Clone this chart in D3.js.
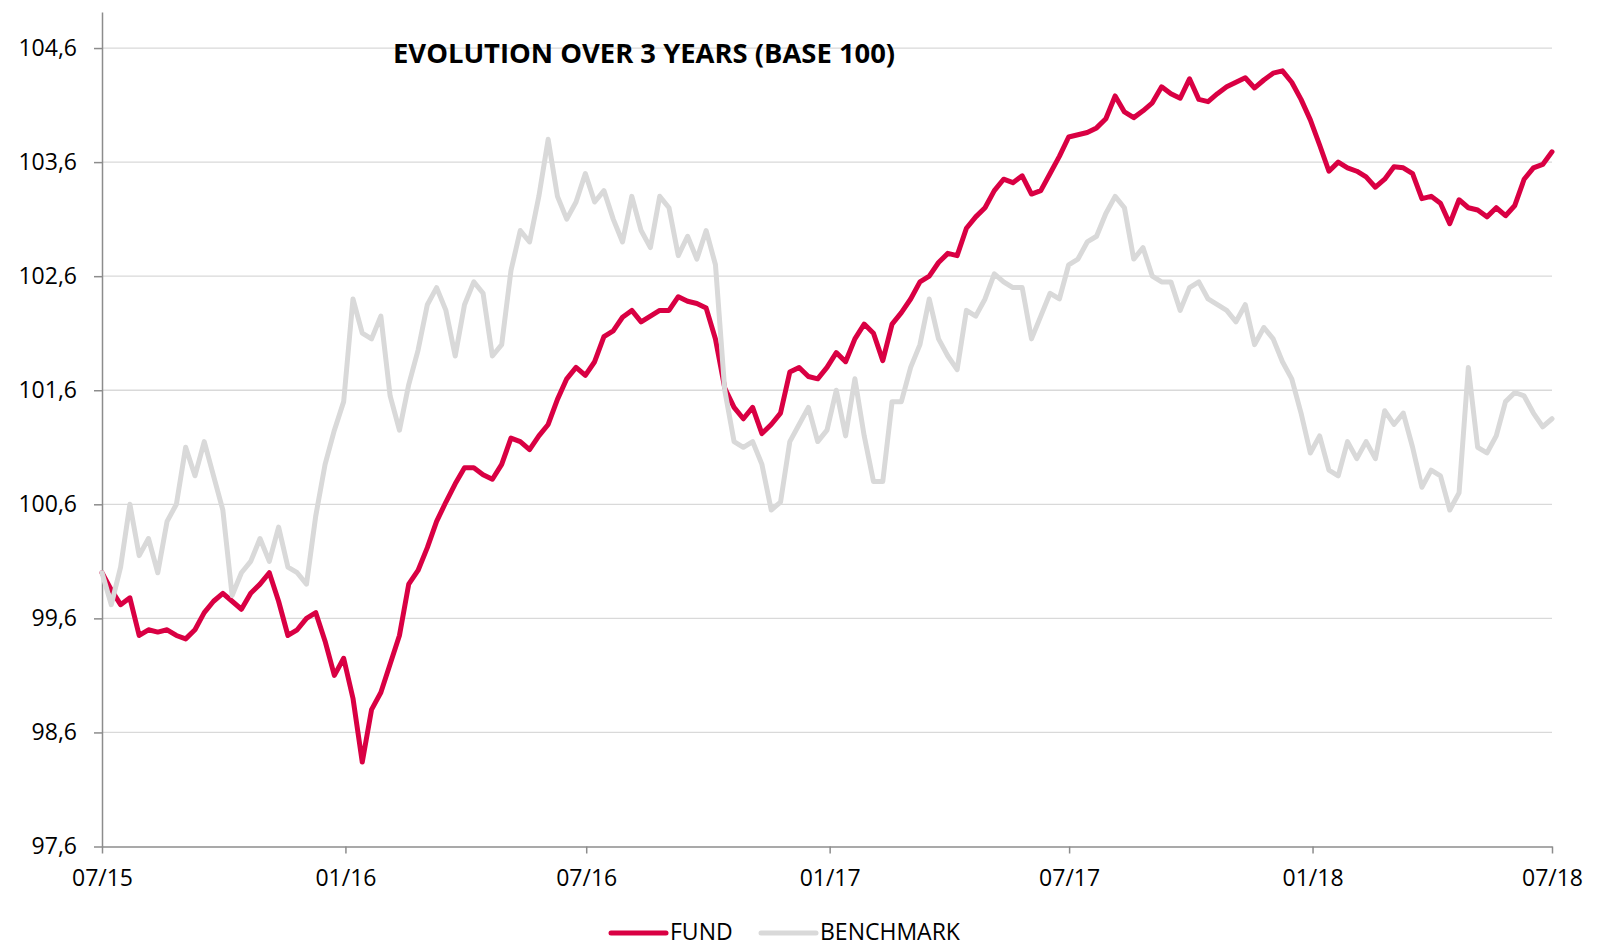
<!DOCTYPE html>
<html>
<head>
<meta charset="utf-8">
<script src="https://cdn.jsdelivr.net/npm/d3@7/dist/d3.min.js"></script>
<style>
  html, body { margin: 0; padding: 0; background: #fff; }
  svg { display: block; font-family: 'Open Sans', sans-serif; }
</style>
</head>
<body>
<svg id="chart" width="1605" height="947"></svg>
<script>
// weekly readings, 07/2015 -> 07/2018
let startDate = new Date(2015, 6, 1)
let endDate = new Date(2018, 6, 1)

let fundValues = [
  100.0, 99.85, 99.72, 99.78, 99.45, 99.5, 99.48, 99.5, 99.45, 99.42,
  99.5, 99.65, 99.75, 99.82, 99.75, 99.68, 99.82, 99.9, 100.0, 99.75,
  99.45, 99.5, 99.6, 99.65, 99.4, 99.1, 99.25, 98.9, 98.34, 98.8,
  98.95, 99.2, 99.45, 99.9, 100.02, 100.22, 100.45, 100.62, 100.78, 100.92,
  100.92, 100.86, 100.82, 100.95, 101.18, 101.15, 101.08, 101.2, 101.3, 101.52,
  101.7, 101.8, 101.73, 101.85, 102.07, 102.12, 102.24, 102.3, 102.2, 102.25,
  102.3, 102.3, 102.42, 102.38, 102.36, 102.32, 102.05, 101.62, 101.45, 101.35,
  101.45, 101.22, 101.3, 101.4, 101.76, 101.8, 101.72, 101.7, 101.8, 101.93,
  101.85, 102.05, 102.18, 102.1, 101.86, 102.18, 102.28, 102.4, 102.55, 102.6,
  102.72, 102.8, 102.78, 103.02, 103.12, 103.2, 103.35, 103.45, 103.42, 103.48,
  103.32, 103.35, 103.5, 103.65, 103.82, 103.84, 103.86, 103.9, 103.98, 104.18,
  104.04, 103.99, 104.05, 104.12, 104.26, 104.2, 104.16, 104.33, 104.15, 104.13,
  104.2, 104.26, 104.3, 104.34, 104.25, 104.32, 104.38, 104.4, 104.3, 104.15,
  103.97, 103.75, 103.52, 103.6, 103.55, 103.52, 103.47, 103.38, 103.45, 103.56,
  103.55, 103.5, 103.28, 103.3, 103.24, 103.06, 103.27, 103.2, 103.18, 103.12,
  103.2, 103.13, 103.22, 103.45, 103.55, 103.58, 103.69
]

let benchmarkValues = [
  100.0, 99.72, 100.05, 100.6, 100.15, 100.3, 100.0, 100.45, 100.6, 101.1,
  100.85, 101.15, 100.85, 100.55, 99.8, 100.0, 100.1, 100.3, 100.1, 100.4,
  100.05, 100.0, 99.9, 100.5, 100.95, 101.25, 101.5, 102.4, 102.1, 102.05,
  102.25, 101.55, 101.25, 101.65, 101.95, 102.35, 102.5, 102.3, 101.9, 102.35,
  102.55, 102.45, 101.9, 102.0, 102.65, 103.0, 102.9, 103.3, 103.8, 103.3,
  103.1, 103.25, 103.5, 103.25, 103.35, 103.1, 102.9, 103.3, 103.0, 102.85,
  103.3, 103.2, 102.78, 102.95, 102.75, 103.0, 102.7, 101.6, 101.15, 101.1,
  101.15, 100.95, 100.55, 100.62, 101.15, 101.3, 101.45, 101.15, 101.25, 101.6,
  101.2, 101.7, 101.2, 100.8, 100.8, 101.5, 101.5, 101.8, 102.0, 102.4,
  102.05, 101.9, 101.78, 102.3, 102.25, 102.4, 102.62, 102.55, 102.5, 102.5,
  102.05, 102.25, 102.45, 102.4, 102.7, 102.75, 102.9, 102.95, 103.15, 103.3,
  103.2, 102.75, 102.85, 102.6, 102.55, 102.55, 102.3, 102.5, 102.55, 102.4,
  102.35, 102.3, 102.2, 102.35, 102.0, 102.15, 102.05, 101.85, 101.7, 101.4,
  101.05, 101.2, 100.9, 100.85, 101.15, 101.0, 101.15, 101.0, 101.42, 101.3,
  101.4, 101.1, 100.75, 100.9, 100.85, 100.55, 100.7, 101.8, 101.1, 101.05,
  101.2, 101.5, 101.58, 101.55, 101.4, 101.28, 101.35
]

let yTicks = [97.6, 98.6, 99.6, 100.6, 101.6, 102.6, 103.6, 104.6]
let seriesNames = ['FUND', 'BENCHMARK']
let titleText = 'EVOLUTION OVER 3 YEARS (BASE 100)'

let colors = ['#d90043', '#d9d9d9']

let svg = d3.select('#chart')
let plotLeft = 102
let plotRight = 1552
let plotTop = 12
let plotBottom = 846.5

let span = endDate - startDate
let dates = fundValues.map((v, i) => new Date(+startDate + i * span / (fundValues.length - 1)))

let x = d3.scaleTime()
  .domain([startDate, endDate])
  .range([plotLeft, plotRight])

let y = d3.scaleLinear()
  .domain([97.6, 104.916])
  .range([plotBottom, plotTop])

// grid
svg.append('g')
  .selectAll('line')
  .data(yTicks.slice(1))
  .join('line')
  .attr('x1', plotLeft)
  .attr('x2', plotRight)
  .attr('y1', d => y(d))
  .attr('y2', d => y(d))
  .attr('stroke', '#d9d9d9')
  .attr('stroke-width', 1.3)

// axes
let yAxis = svg.append('g')
  .attr('transform', `translate(${plotLeft},0)`)
  .call(d3.axisLeft(y)
    .tickValues(yTicks)
    .tickFormat(d => d.toFixed(1).replace('.', ','))
    .tickSize(8)
    .tickSizeOuter(0)
    .tickPadding(17))

let xAxis = svg.append('g')
  .attr('transform', `translate(0,${plotBottom})`)
  .call(d3.axisBottom(x)
    .ticks(d3.timeMonth.every(6))
    .tickFormat(d3.timeFormat('%m/%y'))
    .tickSize(7)
    .tickSizeOuter(0)
    .tickPadding(16))

for (let ax of [yAxis, xAxis]) {
  ax.select('.domain').attr('stroke', '#8c8c8c').attr('stroke-width', 1.5)
  ax.selectAll('.tick line').attr('stroke', '#8c8c8c').attr('stroke-width', 1.5)
  ax.selectAll('.tick text')
    .attr('fill', '#000')
    .style('font-family', "'Open Sans', sans-serif")
    .style('font-size', '23px')
}

// lines: fund first, benchmark drawn on top
let line = d3.line()
  .x((d, i) => x(dates[i]))
  .y(d => y(d))

let allSeries = [fundValues, benchmarkValues]
svg.append('g')
  .selectAll('path')
  .data(allSeries)
  .join('path')
  .attr('d', line)
  .attr('fill', 'none')
  .attr('stroke', (d, i) => colors[i])
  .attr('stroke-width', 5)
  .attr('stroke-linejoin', 'round')
  .attr('stroke-linecap', 'round')

// title
svg.append('text')
  .attr('x', 393)
  .attr('y', 63)
  .attr('fill', '#000')
  .style('font-size', '27.4px')
  .style('font-weight', 'bold')
  .text(titleText)

// legend
let legendPos = [611, 761]
let legend = svg.append('g')
  .selectAll('g')
  .data(seriesNames)
  .join('g')
  .attr('transform', (d, i) => `translate(${legendPos[i]},933)`)

legend.append('line')
  .attr('x1', 0)
  .attr('x2', 55)
  .attr('stroke', (d, i) => colors[i])
  .attr('stroke-width', 5)
  .attr('stroke-linecap', 'round')

legend.append('text')
  .attr('x', 59)
  .attr('y', 7)
  .attr('fill', '#000')
  .style('font-size', '23px')
  .text(d => d)
</script>
</body>
</html>
